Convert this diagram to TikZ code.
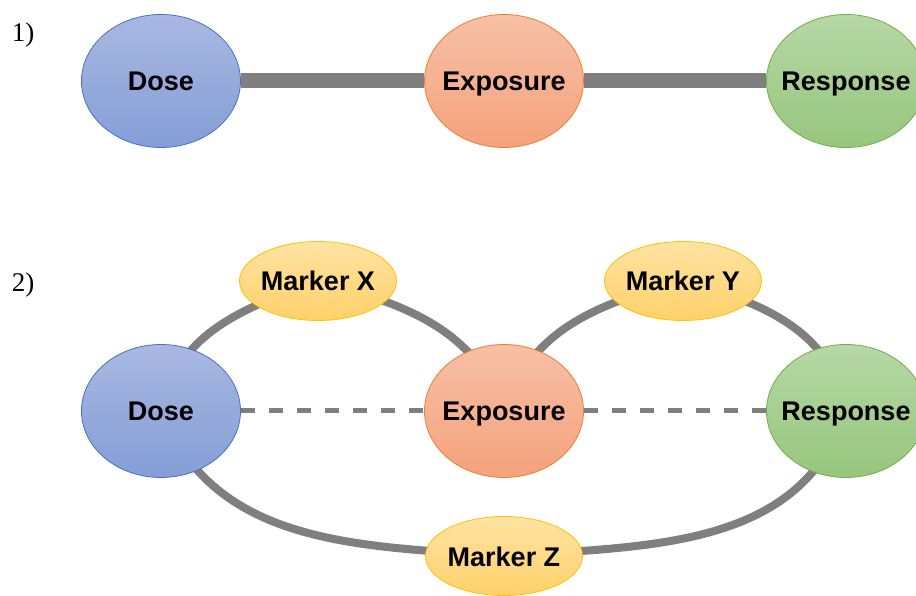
\documentclass[tikz,border=0pt]{standalone}
\usepackage{fontspec}
\setmainfont{Liberation Serif}
\setsansfont{Liberation Sans}
\usetikzlibrary{shapes.geometric,backgrounds}

\definecolor{linkgray}{HTML}{7F7F7F}
\definecolor{doseline}{HTML}{4472C4}
\definecolor{doseA}{HTML}{A9B8E2}
\definecolor{doseB}{HTML}{849ED6}
\definecolor{expline}{HTML}{ED7D31}
\definecolor{expA}{HTML}{F7C0A6}
\definecolor{expB}{HTML}{F4A27C}
\definecolor{respline}{HTML}{70AD47}
\definecolor{respA}{HTML}{B6D8A6}
\definecolor{respB}{HTML}{96C67D}
\definecolor{markline}{HTML}{FFC000}
\definecolor{markA}{HTML}{FFE3A3}
\definecolor{markB}{HTML}{FFD16A}

\begin{document}
\begin{tikzpicture}[x=1pt, y=1pt,
    every node/.style={font=\sffamily\bfseries\fontsize{27}{32}\selectfont, inner ysep=0pt, inner xsep=-25pt, text height=20pt, text depth=0pt},
    blob/.style={ellipse, line width=0.8pt, minimum width=159pt, minimum height=133pt},
    dosenode/.style={blob, draw=doseline, top color=doseA, bottom color=doseB},
    expnode/.style={blob, draw=expline, top color=expA, bottom color=expB},
    respnode/.style={blob, draw=respline, top color=respA, bottom color=respB},
    marker/.style={ellipse, line width=0.8pt, draw=markline, top color=markA, bottom color=markB, minimum width=157pt, minimum height=79pt},
    label/.style={font=\rmfamily\fontsize{27}{32}\selectfont, inner xsep=0pt},
    bar/.style={draw=linkgray, line width=15pt},
    link/.style={draw=linkgray, line width=8pt},
    weak/.style={draw=linkgray, line width=5pt, dash pattern=on 14pt off 14pt}]
    \useasboundingbox (0,0) rectangle (916,595);

    % 1) direct chain
    \node(tag1)[label] at (23,563){1)};
    \node(dose1)[dosenode] at (161,514){Dose};
    \node(exp1)[expnode, right of=dose1, node distance=343pt]{Exposure};
    \node(resp1)[respnode, right of=exp1, node distance=342pt]{Response};

    % 2) chain through markers
    \node(tag2)[label] at (23,313){2)};
    \node(dose2)[dosenode, below of=dose1, node distance=330pt]{Dose};
    \node(exp2)[expnode, below of=exp1, node distance=330pt]{Exposure};
    \node(resp2)[respnode, below of=resp1, node distance=330pt]{Response};
    \node(mx)[marker, above of=dose2, node distance=130pt, xshift=157pt]{Marker X};
    \node(my)[marker, above of=exp2, node distance=130pt, xshift=179pt]{Marker Y};
    \node(mz)[marker, below of=exp2, node distance=145pt]{Marker Z};

    \begin{scope}[on background layer]
        \draw[bar] (dose1) -- (exp1);
        \draw[bar] (exp1) -- (resp1);

        \draw[weak] (dose2) -- (exp2);
        \draw[weak] (exp2) -- (resp2);

        \draw[link] (dose2.center) to[out=78, in=200] (mx.center);
        \draw[link] (mx.center) to[out=-15, in=110] (exp2.center);
        \draw[link] (exp2.center) to[out=72, in=195] (my.center);
        \draw[link] (my.center) to[out=-15, in=100] (resp2.center);
        \draw[link] (dose2.center) to[out=-68, in=176] (mz.center);
        \draw[link] (mz.center) to[out=4, in=-108] (resp2.center);
    \end{scope}
\end{tikzpicture}
\end{document}
